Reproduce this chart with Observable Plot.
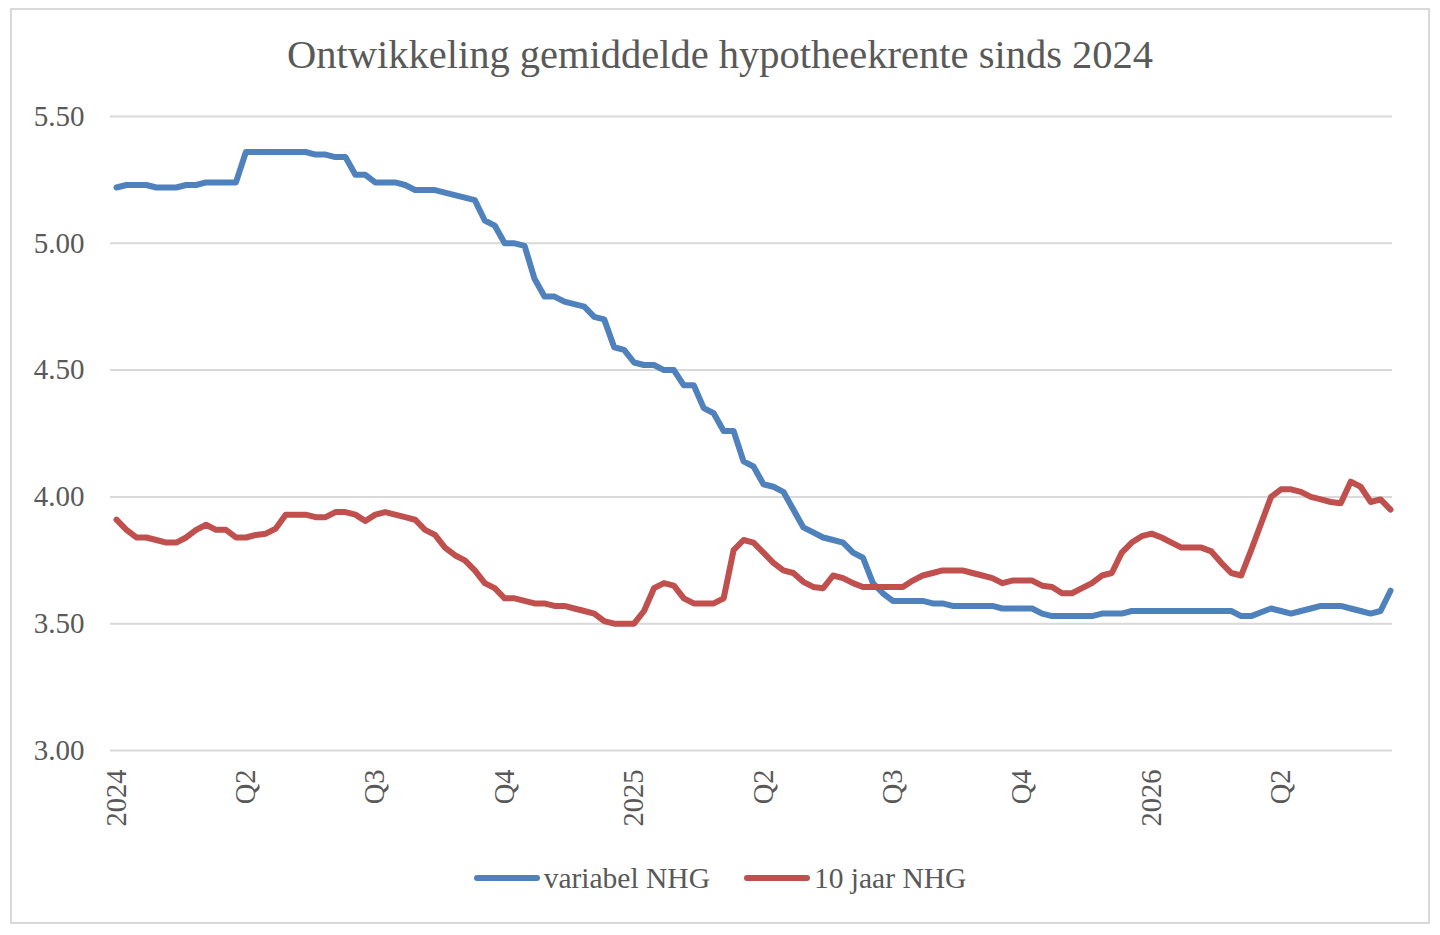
<!DOCTYPE html>
<html>
<head>
<meta charset="utf-8">
<script src="https://cdn.jsdelivr.net/npm/d3@7"></script>
<script src="https://cdn.jsdelivr.net/npm/@observablehq/plot@0.6"></script>
<style>
  html, body { margin: 0; padding: 0; background: #fff; }
  #wrap { position: relative; width: 1440px; height: 935px; overflow: hidden; font-family: "Liberation Serif", serif; color: #595959; }
  #frame { position: absolute; left: 10px; top: 8px; width: 1416px; height: 912px; border: 2px solid #d9d9d9; box-sizing: content-box; }
  #title { position: absolute; left: 0; width: 1440px; top: 30px; text-align: center; font-size: 40.5px; line-height: 50px; white-space: nowrap; }
  #chart { position: absolute; left: 0; top: 0; }
  #legend { position: absolute; left: 0; width: 1440px; top: 860px; display: flex; justify-content: center; align-items: center; font-size: 29.5px; line-height: 36px; }
  .item { display: flex; align-items: center; margin: 0 17px; }
  .sw { width: 66px; height: 6px; border-radius: 3px; margin-right: 4px; }
</style>
</head>
<body>
<div id="wrap">
  <div id="frame"></div>
  <div id="chart"></div>
  <div id="title"></div>
  <div id="legend"></div>
</div>
<script>
const titleText = "Ontwikkeling gemiddelde hypotheekrente sinds 2024";
const seriesNames = ["variabel NHG", "10 jaar NHG"];
const seriesColors = ["#4f81bd", "#c0504d"];
const tickWeeks = [0, 13, 26, 39, 52, 65, 78, 91, 104, 117];
const tickLabels = ["2024", "Q2", "Q3", "Q4", "2025", "Q2", "Q3", "Q4", "2026", "Q2"];
const yTicks = [3.0, 3.5, 4.0, 4.5, 5.0, 5.5];

const variabel = [
  5.22, 5.23, 5.23, 5.23, 5.22, 5.22, 5.22, 5.23, 5.23, 5.24,
  5.24, 5.24, 5.24, 5.36, 5.36, 5.36, 5.36, 5.36, 5.36, 5.36,
  5.35, 5.35, 5.34, 5.34, 5.27, 5.27, 5.24, 5.24, 5.24, 5.23,
  5.21, 5.21, 5.21, 5.20, 5.19, 5.18, 5.17, 5.09, 5.07, 5.00,
  5.00, 4.99, 4.86, 4.79, 4.79, 4.77, 4.76, 4.75, 4.71, 4.70,
  4.59, 4.58, 4.53, 4.52, 4.52, 4.50, 4.50, 4.44, 4.44, 4.35,
  4.33, 4.26, 4.26, 4.14, 4.12, 4.05, 4.04, 4.02, 3.95, 3.88,
  3.86, 3.84, 3.83, 3.82, 3.78, 3.76, 3.66, 3.62, 3.59, 3.59,
  3.59, 3.59, 3.58, 3.58, 3.57, 3.57, 3.57, 3.57, 3.57, 3.56,
  3.56, 3.56, 3.56, 3.54, 3.53, 3.53, 3.53, 3.53, 3.53, 3.54,
  3.54, 3.54, 3.55, 3.55, 3.55, 3.55, 3.55, 3.55, 3.55, 3.55,
  3.55, 3.55, 3.55, 3.53, 3.53, 3.545, 3.56, 3.55, 3.54, 3.55,
  3.56, 3.57, 3.57, 3.57, 3.56, 3.55, 3.54, 3.55, 3.63
];

const tienJaar = [
  3.91, 3.87, 3.84, 3.84, 3.83, 3.82, 3.82, 3.84, 3.87, 3.89,
  3.87, 3.87, 3.84, 3.84, 3.85, 3.855, 3.875, 3.93, 3.93, 3.93,
  3.92, 3.92, 3.94, 3.94, 3.93, 3.905, 3.93, 3.94, 3.93, 3.92,
  3.91, 3.87, 3.85, 3.80, 3.77, 3.75, 3.71, 3.66, 3.64, 3.60,
  3.60, 3.59, 3.58, 3.58, 3.57, 3.57, 3.56, 3.55, 3.54, 3.51,
  3.50, 3.50, 3.50, 3.55, 3.64, 3.66, 3.65, 3.60, 3.58, 3.58,
  3.58, 3.60, 3.79, 3.83, 3.82, 3.78, 3.74, 3.71, 3.70, 3.665,
  3.645, 3.64, 3.69, 3.68, 3.66, 3.645, 3.645, 3.645, 3.645, 3.645,
  3.67, 3.69, 3.70, 3.71, 3.71, 3.71, 3.70, 3.69, 3.68, 3.66,
  3.67, 3.67, 3.67, 3.65, 3.645, 3.62, 3.62, 3.64, 3.66, 3.69,
  3.70, 3.78, 3.82, 3.845, 3.855, 3.84, 3.82, 3.80, 3.80, 3.80,
  3.785, 3.74, 3.70, 3.69, 3.79, 3.895, 4.00, 4.03, 4.03, 4.02,
  4.00, 3.99, 3.98, 3.975, 4.06, 4.04, 3.98, 3.99, 3.95
];

document.getElementById("title").textContent = titleText;

const chart = Plot.plot({
  width: 1440,
  height: 935,
  marginLeft: 116,
  marginRight: 50,
  marginTop: 116,
  marginBottom: 185,
  style: { fontFamily: "Liberation Serif, serif", fontSize: "28px", color: "#595959", background: "transparent", overflow: "visible" },
  x: { domain: [0, variabel.length - 1] },
  y: { domain: [3, 5.5] },
  marks: [
    Plot.ruleY(yTicks, { stroke: "#d9d9d9", strokeWidth: 2, insetLeft: -6, insetRight: -2 }),
    Plot.axisY(yTicks, { tickSize: 0, tickPadding: 32, tickFormat: d3.format(".2f"), fontSize: 29, fill: "#595959" }),
    Plot.axisX(tickWeeks, { tickSize: 0, tickPadding: 19, tickRotate: -90, fontSize: 28.5, fill: "#595959",
      tickFormat: d => tickLabels[tickWeeks.indexOf(d)] }),
    Plot.lineY(variabel, { stroke: seriesColors[0], strokeWidth: 6, strokeLinejoin: "round", strokeLinecap: "round" }),
    Plot.lineY(tienJaar, { stroke: seriesColors[1], strokeWidth: 6, strokeLinejoin: "round", strokeLinecap: "round" })
  ]
});
document.getElementById("chart").appendChild(chart);

const legend = document.getElementById("legend");
seriesNames.forEach((name, i) => {
  const item = document.createElement("div");
  item.className = "item";
  const sw = document.createElement("div");
  sw.className = "sw";
  sw.style.background = seriesColors[i];
  const lab = document.createElement("span");
  lab.textContent = name;
  item.appendChild(sw);
  item.appendChild(lab);
  legend.appendChild(item);
});
</script>
</body>
</html>
